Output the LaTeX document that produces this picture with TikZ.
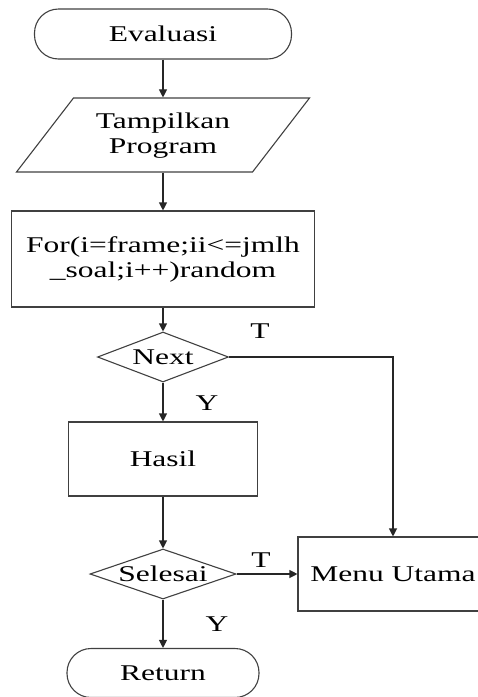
\documentclass[tikz,border=0pt]{standalone}
\usepackage{fontspec}
\setmainfont{Liberation Serif}[FakeStretch=1.4]
\usetikzlibrary{arrows.meta,shapes.geometric}

\begin{document}
\begin{tikzpicture}[
  x=1pt,y=-1pt,
  >={Triangle[length=8pt,width=8pt]},
  font=\fontsize{22.5}{25}\selectfont,
  terminal/.style={draw=black!75,line width=1.1pt,rounded corners=24pt,
    minimum width=#1,minimum height=50pt},
  process/.style={draw=black!75,line width=1.1pt,minimum width=#1,
    minimum height=74pt,align=center},
  io/.style={draw=black!75,line width=1.1pt,trapezium,trapezium left angle=52.4,
    trapezium right angle=127.6,trapezium stretches body=true,
    inner xsep=0pt,inner ysep=37pt,minimum width=293pt,minimum height=74pt},
  decision/.style={draw=black!75,line width=1.1pt,diamond,inner sep=0pt,
    minimum width=#1,minimum height=50pt},
  flow/.style={->,line width=1.1pt,black!85},
  lab/.style={inner sep=0pt}]

  \useasboundingbox (0,0) rectangle (478,697);

  % blocks
  \node[terminal=257pt] (eval) at (163,34) {Evaluasi};
  \node[io] (prog) at (163,135) {};
  \node[align=center] (progtxt) at (163,136) {Tampilkan\\Program};
  \node[process=303pt,minimum height=96pt] (loop) at (163,259)
    {For(i=frame;ii<=jmlh\\\_soal;i++)random};
  \node[decision=131pt] (next) at (163,357) {};
  \node (nexttxt) at (163,357) {Next};
  \node[process=189pt] (hasil) at (163,459) {Hasil};
  \node[decision=146pt] (selesai) at (163,574) {};
  \node (selesaitxt) at (163,574) {Selesai};
  \node[process=190pt] (menu) at (393,574) {Menu Utama};
  \node[terminal=192pt,minimum height=49pt] (ret) at (163,673) {Return};

  % connectors
  \draw[flow] (eval.south) -- (prog.north);
  \draw[flow] (prog.south) -- (loop.north);
  \draw[flow] (loop.south) -- (next.north);
  \draw[flow] (next.south) -- (hasil.north);
  \draw[flow] (next.east) -| (menu.north);
  \draw[flow] (hasil.south) -- (selesai.north);
  \draw[flow] (selesai.east) -- (menu.west);
  \draw[flow] (selesai.south) -- (ret.north);

  % branch labels
  \node[lab] (tnext) at (260,331) {T};
  \node[lab] (ynext) at (207,403) {Y};
  \node[lab] (tsel) at (261,560) {T};
  \node[lab] (ysel) at (217,624) {Y};
\end{tikzpicture}
\end{document}
